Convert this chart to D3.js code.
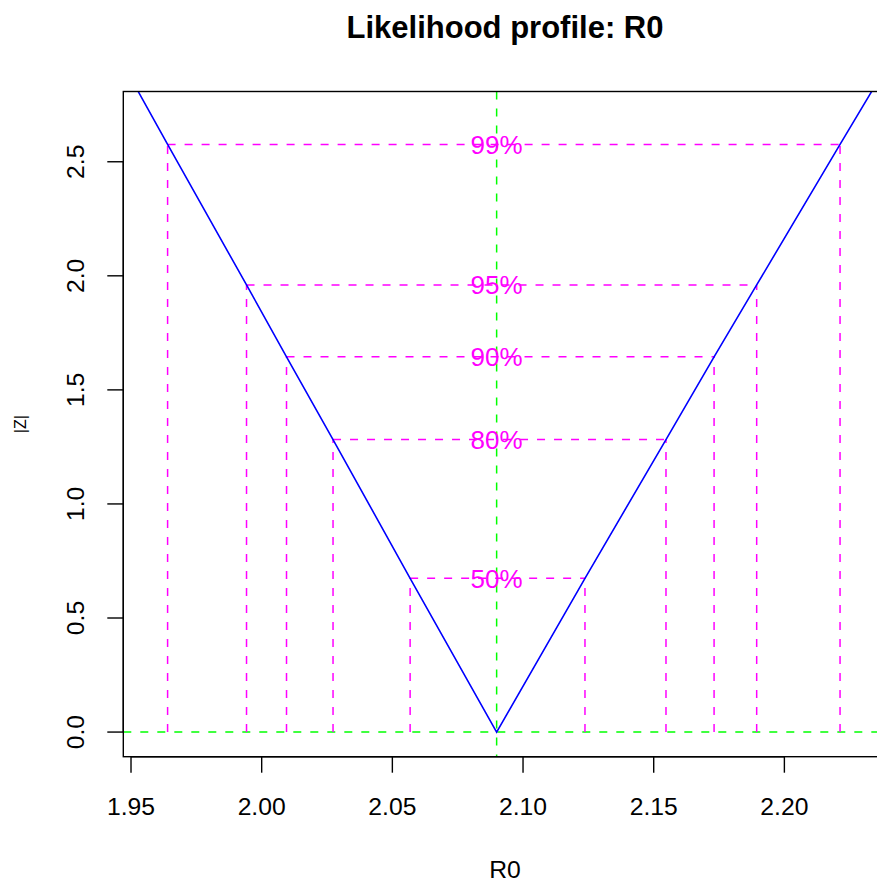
<!DOCTYPE html>
<html>
<head>
<meta charset="utf-8">
<script src="https://cdn.jsdelivr.net/npm/d3@7"></script>
<style>
  html, body { margin: 0; padding: 0; background: #fff; }
  svg { display: block; font-family: "Liberation Sans", Arial, Helvetica, sans-serif; }
</style>
</head>
<body>
<script>
// Profile likelihood of R0 expressed as |Z|
const profileR0 = [1.9450, 1.9640, 1.9942, 2.0095, 2.0273, 2.0568, 2.0899, 2.1237, 2.1547, 2.1731, 2.1894, 2.2213, 2.2400];
const profileZ  = [2.968, 2.576, 1.960, 1.645, 1.282, 0.674, 0.000, 0.674, 1.282, 1.645, 1.960, 2.576, 2.935];

// Confidence levels with their |Z| cut-offs and interval end points
const levels   = ["50%", "80%", "90%", "95%", "99%"];
const levelZ   = [0.674, 1.282, 1.645, 1.960, 2.576];
const ciLower  = [2.0568, 2.0273, 2.0095, 1.9942, 1.9640];
const ciUpper  = [2.1237, 2.1547, 2.1731, 2.1894, 2.2213];
const mle = 2.0899;

const xTicks = [1.95, 2.00, 2.05, 2.10, 2.15, 2.20];
const yTicks = [0.0, 0.5, 1.0, 1.5, 2.0, 2.5];

const W = 877, H = 886;
const m = { left: 123.3, top: 91.5, plotW: 763.4, plotH: 665.2 };

const svg = d3.select("body").append("svg").attr("width", W).attr("height", H);

const x = d3.scaleLinear().domain([1.94705, 2.23915]).range([m.left, m.left + m.plotW]);
const y = d3.scaleLinear().domain([-0.108, 2.808]).range([m.top + m.plotH, m.top]);

svg.append("defs").append("clipPath").attr("id", "plotclip")
  .append("rect").attr("x", m.left).attr("y", m.top).attr("width", m.plotW).attr("height", m.plotH);

const plot = svg.append("g").attr("clip-path", "url(#plotclip)");

// reference lines at the MLE and |Z| = 0
plot.append("line")
  .attr("x1", x(mle)).attr("x2", x(mle)).attr("y1", m.top).attr("y2", m.top + m.plotH)
  .attr("stroke", "#00ff00").attr("stroke-width", 1.5).attr("stroke-dasharray", "8,9");
plot.append("line")
  .attr("x1", m.left).attr("x2", m.left + m.plotW).attr("y1", y(0)).attr("y2", y(0))
  .attr("stroke", "#00ff00").attr("stroke-width", 1.5).attr("stroke-dasharray", "8,9");

// interval segments per confidence level
levels.forEach((lab, i) => {
  const g = plot.append("g").attr("stroke", "#ff00ff").attr("stroke-width", 1.5)
    .attr("stroke-dasharray", "8,9").attr("fill", "none");
  g.append("line").attr("x1", x(ciLower[i])).attr("x2", x(ciUpper[i]))
    .attr("y1", y(levelZ[i])).attr("y2", y(levelZ[i]));
  g.append("line").attr("x1", x(ciLower[i])).attr("x2", x(ciLower[i]))
    .attr("y1", y(0)).attr("y2", y(levelZ[i]));
  g.append("line").attr("x1", x(ciUpper[i])).attr("x2", x(ciUpper[i]))
    .attr("y1", y(0)).attr("y2", y(levelZ[i]));
});

// profile curve
const pts = profileR0.map((r, i) => [r, profileZ[i]]);
plot.append("path").datum(pts)
  .attr("d", d3.line().x(d => x(d[0])).y(d => y(d[1])))
  .attr("fill", "none").attr("stroke", "#0000ff").attr("stroke-width", 1.6);

// level labels
levels.forEach((lab, i) => {
  plot.append("text").attr("x", x(mle)).attr("y", y(levelZ[i])).attr("dy", "0.36em")
    .attr("text-anchor", "middle").attr("font-size", 26).attr("fill", "#ff00ff").text(lab);
});

// frame
svg.append("rect").attr("x", m.left).attr("y", m.top).attr("width", m.plotW).attr("height", m.plotH)
  .attr("fill", "none").attr("stroke", "#000").attr("stroke-width", 1.4);

// x axis
const xAxis = svg.append("g");
xAxis.append("line").attr("x1", x(xTicks[0])).attr("x2", x(xTicks[xTicks.length - 1]))
  .attr("y1", m.top + m.plotH).attr("y2", m.top + m.plotH).attr("stroke", "#000").attr("stroke-width", 1.4);
xTicks.forEach(t => {
  xAxis.append("line").attr("x1", x(t)).attr("x2", x(t))
    .attr("y1", m.top + m.plotH).attr("y2", m.top + m.plotH + 16).attr("stroke", "#000").attr("stroke-width", 1.4);
  xAxis.append("text").attr("x", x(t)).attr("y", 815).attr("text-anchor", "middle")
    .attr("font-size", 24.7).attr("fill", "#000").text(d3.format(".2f")(t));
});

// y axis
const yAxis = svg.append("g");
yAxis.append("line").attr("x1", m.left).attr("x2", m.left)
  .attr("y1", y(yTicks[0])).attr("y2", y(yTicks[yTicks.length - 1])).attr("stroke", "#000").attr("stroke-width", 1.4);
yTicks.forEach(t => {
  yAxis.append("line").attr("x1", m.left - 16).attr("x2", m.left)
    .attr("y1", y(t)).attr("y2", y(t)).attr("stroke", "#000").attr("stroke-width", 1.4);
  yAxis.append("text").attr("transform", `translate(84,${y(t)}) rotate(-90)`)
    .attr("text-anchor", "middle").attr("font-size", 24.7).attr("fill", "#000").text(d3.format(".1f")(t));
});

// titles
svg.append("text").attr("x", m.left + m.plotW / 2).attr("y", 38).attr("text-anchor", "middle")
  .attr("font-size", 31).attr("font-weight", "bold").attr("fill", "#000").text("Likelihood profile: R0");
svg.append("text").attr("x", m.left + m.plotW / 2).attr("y", 878).attr("text-anchor", "middle")
  .attr("font-size", 24.7).attr("fill", "#000").text("R0");
svg.append("text").attr("transform", `translate(26,${m.top + m.plotH / 2}) rotate(-90)`)
  .attr("text-anchor", "middle").attr("font-size", 16).attr("fill", "#000").text("|Z|");
</script>
</body>
</html>
